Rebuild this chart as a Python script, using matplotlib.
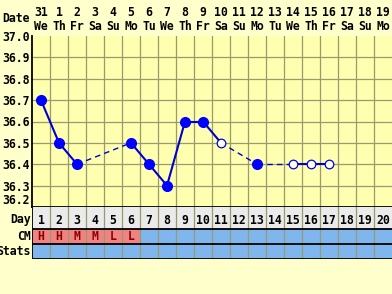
import matplotlib
matplotlib.use("Agg")
import matplotlib.pyplot as plt
import numpy as np

# ---- data ----
days = list(range(1, 21))
dates = ["31", "1", "2", "3", "4", "5", "6", "7", "8", "9", "10",
         "11", "12", "13", "14", "15", "16", "17", "18", "19"]
weekdays = ["We", "Th", "Fr", "Sa", "Su", "Mo", "Tu", "We", "Th", "Fr",
            "Sa", "Su", "Mo", "Tu", "We", "Th", "Fr", "Sa", "Su", "Mo"]
temps = [36.7, 36.5, 36.4, None, None, 36.5, 36.4, 36.3, 36.6, 36.6,
         36.5, None, 36.4, None, 36.4, 36.4, 36.4, None, None, None]
open_marker = [False, False, False, False, False, False, False, False, False, False,
               True, False, False, False, True, True, True, False, False, False]
cm_values = ["H", "H", "M", "M", "L", "L"]
ytick_vals = [36.2, 36.3, 36.4, 36.5, 36.6, 36.7, 36.8, 36.9, 37.0]

W, H = 392, 294
fig = plt.figure(figsize=(W / 100, H / 100), dpi=100)
fig.patch.set_facecolor("#FFFFCC")

FONT = dict(family="DejaVu Sans Mono", weight="bold", size=8.3)
grid_c = "#9A9A70"

def frac(l, t, r, b):
    return [l / W, 1 - b / H, (r - l) / W, (b - t) / H]

# ---- temperature axes ----
ax = fig.add_axes(frac(32, 36, 392, 207))
ax.set_facecolor("#FFFFB0")
ax.set_xlim(0.5, 20.5)
ax.set_ylim(36.2, 37.0)
for d in range(1, 20):
    ax.axvline(d + 0.5, color=grid_c, lw=0.9, zorder=1)
for v in ytick_vals[1:-1]:
    ax.axhline(v, color=grid_c, lw=0.9, zorder=1)
ax.set_xticks([])
ax.set_yticks(ytick_vals)
ax.set_yticklabels([f"{v:.1f}" for v in ytick_vals], **FONT)
ax.tick_params(axis="y", length=0, pad=1.5)
ax.get_yticklabels()[0].set_va("bottom")
for s in ["top", "right"]:
    ax.spines[s].set_visible(False)
ax.spines["left"].set_linewidth(1.3)
ax.spines["bottom"].set_linewidth(1.3)

# lines: solid between consecutive days, dashed across gaps
pts = [(d, t, o) for d, t, o in zip(days, temps, open_marker) if t is not None]
line_c = "#0000CC"
for (d1, t1, _), (d2, t2, _) in zip(pts[:-1], pts[1:]):
    if d2 - d1 == 1:
        ax.plot([d1, d2], [t1, t2], color=line_c, lw=1.5, zorder=3)
    else:
        ax.plot([d1, d2], [t1, t2], color=line_c, lw=1.0, ls=(0, (4, 3)), zorder=3)
for d, t, o in pts:
    if o:
        ax.plot(d, t, "o", ms=6.2, mfc="white", mec="#0000EE", mew=0.9, zorder=4)
    else:
        ax.plot(d, t, "o", ms=7.0, mfc="#0000FF", mec="#0000FF", zorder=4)

# header dates / weekdays
for d, dt, wd in zip(days, dates, weekdays):
    ax.text(d, 1.0 + 23 / 171, dt, transform=ax.get_xaxis_transform(), ha="center",
            va="center", **FONT)
    ax.text(d, 1.0 + 10 / 171, wd, transform=ax.get_xaxis_transform(), ha="center",
            va="center", **FONT)
fig.text(16 / W, 1 - 19 / H, "Date", ha="center", va="center", **FONT)

# ---- table axes ----
tx = fig.add_axes(frac(32, 207, 392, 259))
tx.set_xlim(0.5, 20.5)
rows = [0, 22, 37, 52]
tx.set_ylim(rows[-1], rows[0])
tx.axis("off")
tx.fill_between([0.5, 20.5], rows[0], rows[1], color="#EBEBEB", lw=0)
tx.fill_between([0.5, 20.5], rows[1], rows[3], color="#7FB6EE", lw=0)
for i, v in enumerate(cm_values):
    tx.fill_between([i + 0.5, i + 1.5], rows[1], rows[2], color="#F08282", lw=0)
    tx.text(i + 1, (rows[1] + rows[2]) / 2, v, ha="center", va="center",
            color="#880000", **FONT)
for d in range(1, 20):
    tx.plot([d + 0.5, d + 0.5], [rows[0], rows[3]], color=grid_c, lw=0.9)
for d in days:
    tx.text(d, (rows[0] + rows[1]) / 2 + 2, str(d), ha="center", va="center", **FONT)
for y in rows[1:]:
    tx.plot([0.5, 20.5], [y, y], color="black", lw=1.3)
tx.plot([0.5, 0.5], [rows[0], rows[3]], color="black", lw=1.3)
labels = ["Day", "CM", "Stats"]
for lab, y0, y1 in zip(labels, rows[:-1], rows[1:]):
    tx.text(0.42, (y0 + y1) / 2 + (2 if lab == "Day" else 0), lab, ha="right",
            va="center", **FONT)

fig.savefig("out.png", dpi=100, facecolor=fig.get_facecolor())
